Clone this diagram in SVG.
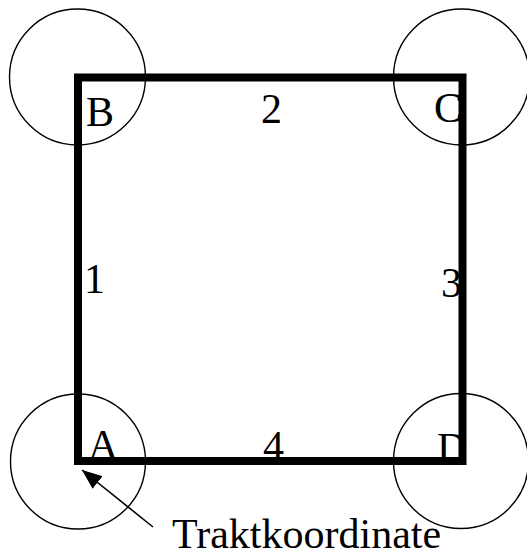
<svg xmlns="http://www.w3.org/2000/svg" width="527" height="551" viewBox="0 0 527 551">
<style>
.c{fill:none;stroke:#000;stroke-width:1.4}
.t{font-family:"Liberation Serif","Times New Roman",serif;font-size:42px;fill:#000}
</style>
<defs>
<marker id="ah" markerWidth="22" markerHeight="16" refX="20" refY="8" orient="auto" markerUnits="userSpaceOnUse">
<path d="M0,0 L20,8 L0,16 Z" fill="#000"/>
</marker>
</defs>
<rect width="527" height="551" fill="#fff"/>
<g id="nodeB"><circle class="c" cx="77.5" cy="77" r="68"/><text class="t" x="86" y="126">B</text></g>
<g id="nodeC"><circle class="c" cx="461.5" cy="77" r="68"/><text class="t" x="434" y="122">C</text></g>
<g id="nodeA"><circle class="c" cx="78" cy="461.5" r="67.5"/><text class="t" x="88" y="459">A</text></g>
<g id="nodeD"><circle class="c" cx="461" cy="461" r="67.5"/><text class="t" x="437" y="462">D</text></g>
<g id="labels">
<text class="t" x="261" y="123">2</text>
<text class="t" x="84" y="293">1</text>
<text class="t" x="441" y="297">3</text>
<text class="t" x="263" y="460">4</text>
<text class="t" x="172" y="548">Traktkoordinate</text>
</g>
<g id="connectors">
<rect x="78" y="77.5" width="384.5" height="383.5" fill="none" stroke="#000" stroke-width="8"/>
<line x1="153" y1="527" x2="82" y2="470" stroke="#000" stroke-width="1.6" marker-end="url(#ah)"/>
</g>
</svg>
